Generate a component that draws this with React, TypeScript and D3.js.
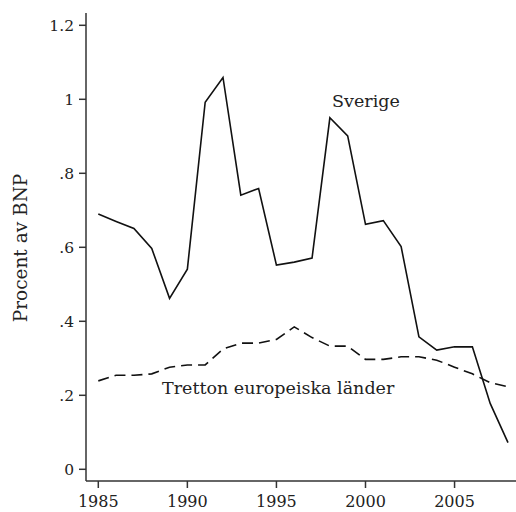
import React from "react";
import * as d3 from "d3";

const years = d3.range(1985, 2009);
const sverige = [0.69, 0.67, 0.651, 0.597, 0.462, 0.541, 0.992, 1.059, 0.741, 0.759, 0.552, 0.56, 0.571, 0.95, 0.901, 0.662, 0.672, 0.602, 0.358, 0.322, 0.331, 0.331, 0.178, 0.072];
const tretton = [0.239, 0.254, 0.254, 0.258, 0.276, 0.282, 0.282, 0.325, 0.341, 0.341, 0.351, 0.385, 0.356, 0.333, 0.333, 0.297, 0.297, 0.304, 0.304, 0.295, 0.276, 0.258, 0.234, 0.223];
const yTicks = [0, 0.2, 0.4, 0.6, 0.8, 1, 1.2];
const yTickLabels = ["0", ".2", ".4", ".6", ".8", "1", "1.2"];
const xTicks = [1985, 1990, 1995, 2000, 2005];

export default function App() {
  const W = 516, H = 512;
  const x = d3.scaleLinear().domain([1985, 2008]).range([98.3, 508]);
  const y = d3.scaleLinear().domain([0, 1.2]).range([469.3, 25.3]);
  const line = d3.line<number>().x((_, i) => x(years[i])).y((d) => y(d));
  const font = "'DejaVu Serif', serif";
  const ink = "#222";
  return (
    <svg width={W} height={H} style={{ position: "absolute", left: 0, top: 0 }} fontFamily={font}>
      <rect width={W} height={H} fill="#fff" />
      <line x1={86} x2={86} y1={13} y2={481} stroke="#333" strokeWidth={1.5} />
      <line x1={86} x2={516} y1={481} y2={481} stroke="#333" strokeWidth={1.5} />
      {yTicks.map((t, i) => (
        <g key={t}>
          <line x1={79} x2={86} y1={y(t)} y2={y(t)} stroke="#333" strokeWidth={1.5} />
          <text x={74} y={y(t)} dy="0.36em" textAnchor="end" fontSize={15.5} fill={ink}>{yTickLabels[i]}</text>
        </g>
      ))}
      {xTicks.map((t) => (
        <g key={t}>
          <line x1={x(t)} x2={x(t)} y1={481} y2={488} stroke="#333" strokeWidth={1.5} />
          <text x={x(t)} y={507} textAnchor="middle" fontSize={16} fill={ink}>{t}</text>
        </g>
      ))}
      <text transform="translate(27,248) rotate(-90)" textAnchor="middle" fontSize={18.5} fill={ink}>Procent av BNP</text>
      <path d={line(sverige) || ""} fill="none" stroke="#111" strokeWidth={1.6} strokeLinejoin="miter" />
      <path d={line(tretton) || ""} fill="none" stroke="#111" strokeWidth={1.6} strokeDasharray="11,6" />
      <text x={366} y={107} textAnchor="middle" fontSize={17.5} fill={ink}>Sverige</text>
      <text x={162} y={394} textAnchor="start" fontSize={17.5} fill={ink}>Tretton europeiska länder</text>
    </svg>
  );
}
